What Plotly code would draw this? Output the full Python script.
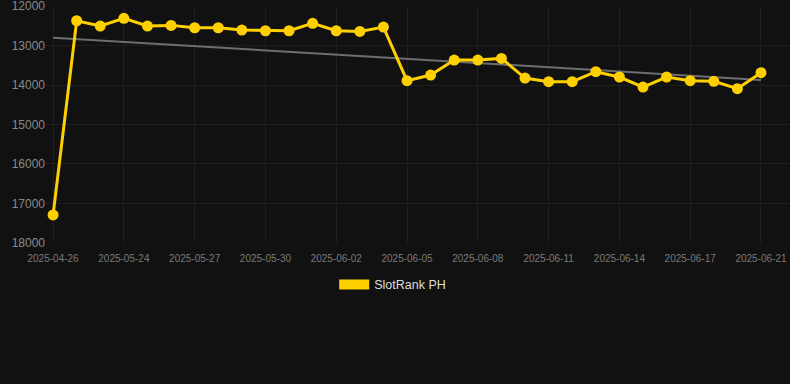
import plotly.graph_objects as go

dates = ["2025-04-26", "2025-05-22", "2025-05-23", "2025-05-24", "2025-05-25", "2025-05-26",
         "2025-05-27", "2025-05-28", "2025-05-29", "2025-05-30", "2025-05-31", "2025-06-01",
         "2025-06-02", "2025-06-03", "2025-06-04", "2025-06-05", "2025-06-06", "2025-06-07",
         "2025-06-08", "2025-06-09", "2025-06-10", "2025-06-11", "2025-06-12", "2025-06-13",
         "2025-06-14", "2025-06-15", "2025-06-16", "2025-06-17", "2025-06-18", "2025-06-20",
         "2025-06-21"]
ranks = [17290, 12372, 12506, 12311, 12506, 12489, 12549, 12549, 12608, 12625, 12625, 12438,
         12625, 12641, 12532, 13891, 13747, 13367, 13367, 13325, 13823, 13916, 13916, 13663,
         13797, 14051, 13797, 13891, 13907, 14093, 13688]
trend_x = [dates[0], dates[-1]]
trend_y = [12800, 13870]
tick_labels = dates[::3]
y_ticks = [12000, 13000, 14000, 15000, 16000, 17000, 18000]

GOLD = "#FFD000"

fig = go.Figure()
fig.add_trace(go.Scatter(x=trend_x, y=trend_y, mode="lines",
                         line=dict(color="#6e6e6e", width=2), showlegend=False, hoverinfo="skip"))
fig.add_trace(go.Scatter(x=dates, y=ranks, mode="lines+markers", name="SlotRank PH",
                         line=dict(color=GOLD, width=3), marker=dict(color=GOLD, size=11),
                         showlegend=False))
fig.add_trace(go.Scatter(x=[None], y=[None], mode="lines", name="SlotRank PH",
                         line=dict(color=GOLD, width=11), showlegend=True))

fig.update_layout(
    width=790, height=384,
    paper_bgcolor="#111111", plot_bgcolor="#111111",
    margin=dict(l=46, r=0, t=6, b=141),
    font=dict(family="Arial, Liberation Sans, sans-serif"),
    xaxis=dict(type="category", categoryorder="array", categoryarray=dates,
               tickmode="array", tickvals=tick_labels, ticktext=tick_labels,
               range=[-0.3, 31.23], showgrid=True, gridcolor="#1e1e1e", gridwidth=1,
               zeroline=False, showline=False, ticks="", ticklabelstandoff=8,
               tickfont=dict(size=10, color="#7a7a7a")),
    yaxis=dict(range=[18002, 11998], tickvals=y_ticks, ticktext=[str(v) for v in y_ticks],
               tickmode="array", ticklabeloverflow="allow",
               showgrid=True, gridcolor="#1e1e1e", gridwidth=1, zeroline=False, showline=False,
               ticks="", tickfont=dict(size=12, color="#8a8a8a")),
    legend=dict(orientation="h", x=0.466, xanchor="center", y=-0.113, yanchor="top",
                font=dict(size=12.5, color="#dddddd"), bgcolor="rgba(0,0,0,0)"),
)

fig.write_html("out.html", config={"displayModeBar": False},
               post_script="document.body.style.margin='0';document.body.style.background='#111111';")
